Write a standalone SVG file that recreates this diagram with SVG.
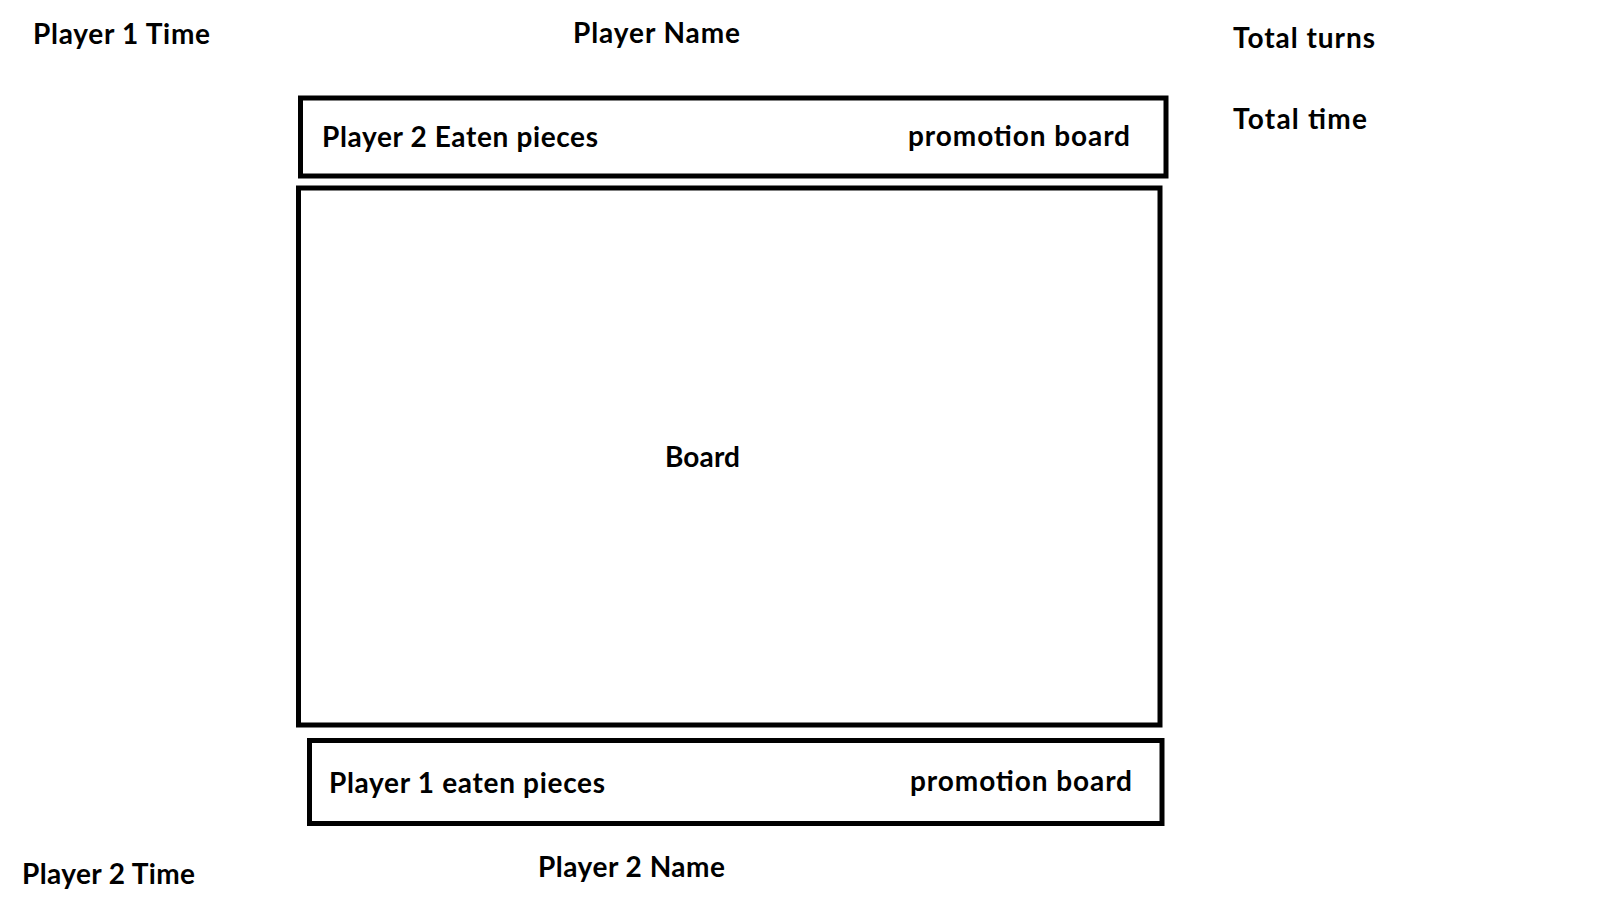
<svg xmlns="http://www.w3.org/2000/svg" width="1600" height="900" viewBox="0 0 1600 900">
<style>
.t{font-family:Lato,"Liberation Sans",sans-serif;font-weight:bold;font-size:28px;fill:#000}
.b{fill:none;stroke:#000;stroke-width:5}
</style>
<rect width="1600" height="900" fill="#fff"/>
<g id="player1-time"><text class="t" x="33" y="44" textLength="177">Player 1 Time</text></g>
<g id="player-name"><text class="t" x="573" y="43" textLength="167">Player Name</text></g>
<g id="total-turns"><text class="t" x="1233" y="48" textLength="142">Total turns</text></g>
<g id="total-time"><text class="t" x="1233" y="129" textLength="134">Total time</text></g>
<g id="top-bar">
<rect class="b" x="300.5" y="98" width="865.5" height="78"/>
<text class="t" x="322" y="147" textLength="276">Player 2 Eaten pieces</text>
<text class="t" x="908" y="146" textLength="222">promotion board</text>
</g>
<g id="board">
<rect class="b" x="298.5" y="188" width="861.5" height="537"/>
<text class="t" x="665" y="467" textLength="75">Board</text>
</g>
<g id="bottom-bar">
<rect class="b" x="309.5" y="740.5" width="852.5" height="83"/>
<text class="t" x="329" y="793" textLength="276">Player 1 eaten pieces</text>
<text class="t" x="910" y="791" textLength="222">promotion board</text>
</g>
<g id="player2-time"><text class="t" x="22" y="884" textLength="173">Player 2 Time</text></g>
<g id="player2-name"><text class="t" x="538" y="877" textLength="187">Player 2 Name</text></g>
<g id="connectors"></g>
</svg>
